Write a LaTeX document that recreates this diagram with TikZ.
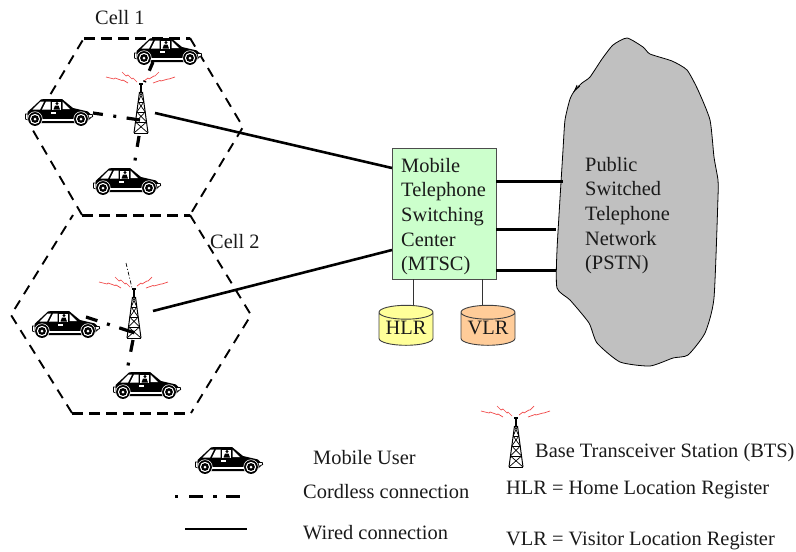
\documentclass[tikz,border=0pt]{standalone}
\usepackage{fontspec}
\setmainfont{Liberation Serif}
\usetikzlibrary{shapes.geometric}
\definecolor{boxgreen}{HTML}{CCFFCC}
\definecolor{hlrfill}{HTML}{FFFF99}
\definecolor{vlrfill}{HTML}{FFCC99}
\definecolor{cloudgray}{HTML}{C0C0C0}
\definecolor{inkc}{HTML}{1A1A1A}
\definecolor{wavered}{HTML}{F04848}
\tikzset{
  txt/.style={font=\fontsize{20.4}{24.6}\selectfont,text=inkc,inner sep=0pt,anchor=base west},
  multitxt/.style={font=\fontsize{20.4}{24.6}\selectfont,text=inkc,inner sep=0pt,align=left,anchor=north west},
  cellside/.style={line width=1.9pt,dash pattern=on 10pt off 7.5pt},
  celledge/.style={line width=3pt,dash pattern=on 11pt off 6pt},
  wired/.style={line width=2.6pt},
  trunk/.style={line width=3pt},
  dbbox/.style={cylinder,shape border rotate=90,aspect=0.34,draw=black!75,line width=0.9pt,
    minimum width=54pt,minimum height=40pt,inner sep=0pt,cylinder uses custom fill,
    font=\fontsize{20.4}{24.6}\selectfont,text=inkc},
  pics/car/.style={code={
    \fill[black] (2.5,13)--(16,0.5)--(19,0)--(37,0)--(48,9)--(63,12.5)--(66.5,16)--(65.5,19.5)--(60,24)--(8,24)--(3,21)--cycle;
    \fill[white] (7.5,10.5)--(15.5,2.5)--(19,2.5)--(15,10.5)--cycle;
    \fill[white] (17,10.5)--(21,2.5)--(25.5,2.5)--(25.5,10.5)--cycle;
    \fill[white] (27,2.5)--(36,2.5)--(36,10.5)--(27,10.5)--cycle;
    \fill[white] (37.5,2.5)--(45,10)--(37.5,10)--cycle;
    \fill[black] (32,4.5) circle (1.7pt);
    \fill[black] (28.5,10.5)--(30,6.5)--(33.5,6.5)--(35,10.5)--cycle;
    \fill[white] (26,12.5) rectangle (31,14.5);
    \draw[white,line width=1.1pt] (12,21)--(54,21);
    \draw[black,line width=0.7pt,fill=white] (0.4,15)--(3,15)--(3,21)--(0.4,20)--cycle;
    \draw[black,line width=0.7pt,fill=white] (63,15.5)--(67.3,15.5)--(67.7,17.5)--(64,19.5)--cycle;
    \foreach \wx in {10,56}{
      \fill[white] (\wx,20) circle (7.6pt);
      \fill[black] (\wx,20) circle (6.9pt);
      \fill[white] (\wx,20) circle (5.2pt);
      \fill[black] (\wx,20) circle (3.9pt);
      \fill[white] (\wx,20) circle (1.5pt);
    }
  }},
  pics/tower/.style={code={
    \draw[black,line width=1pt] (-1.5,8)--(-7,49) (1.5,8)--(7,49);
    \draw[black,line width=1.3pt] (0,0)--(0,8);
    \draw[black,line width=1.5pt] (-2,0)--(2,0);
    \draw[black,line width=0.8pt] (-1.5,8)--(1.5,8) (-2.8,18)--(2.8,18) (-4.2,28)--(4.2,28) (-5.5,38)--(5.5,38) (-7,49)--(7,49);
    \draw[black,line width=0.7pt] (-1.5,8)--(2.8,18) (1.5,8)--(-2.8,18) (-2.8,18)--(4.2,28) (2.8,18)--(-4.2,28)
       (-4.2,28)--(5.5,38) (4.2,28)--(-5.5,38) (-5.5,38)--(7,49) (5.5,38)--(-7,49);
    \draw[wavered,line width=0.7pt]
      (-35,-7)--(-27,-5)--(-26,-6)--(-19,-3.5)--(-18,-4)--(-13,-1)
      (-19,-12)--(-15,-8)--(-13,-9)--(-9,-5)--(-8,-6)--(-4,-2)
      (3,-3)--(7,-6)--(8,-5)--(13,-8)--(14,-8)--(18,-12)
      (12,-1)--(19,-3.5)--(20,-3)--(27,-5)--(28,-5)--(34,-7);
  }}
}
\begin{document}
\begin{tikzpicture}[x=1pt,y=-1pt]
\useasboundingbox (0,0) rectangle (796,552);
% cell outlines
\coordinate (a1) at (84,38); \coordinate (a2) at (190,38); \coordinate (a3) at (243,127);
\coordinate (a4) at (190,215); \coordinate (a5) at (82,215); \coordinate (a6) at (31,127);
\coordinate (b1) at (73,215); \coordinate (b2) at (190,215); \coordinate (b3) at (251,315);
\coordinate (b4) at (191,413); \coordinate (b5) at (72,413); \coordinate (b6) at (11,315);
\draw[cellside] (a2)--(a3)--(a4);
\draw[cellside] (a5)--(a6)--(a1);
\draw[celledge] (a1)--(a2);
\draw[celledge] (a5)--(a4);
\draw[cellside] (b2)--(b3)--(b4);
\draw[cellside] (b5)--(b6)--(b1);
\draw[celledge] (b5)--(b4);
% PSTN cloud
\draw[fill=cloudgray,draw=black,line width=0.8pt] plot[smooth cycle,tension=0.35] coordinates {
 (570,99)(575,90)(582,83)(590,77)(602,59)(613,45)(627,38)(643,47)(650,54)(672,61)(687,70)(698,90)
 (710,120)(714,157)(718,180)(718,197)(714,298)(705,333)(688,355)(673,358)(650,366)(620,362)
 (597,343)(589,323)(570,300)(557,288)(557,250)(563,150)(565,120)};
\draw[black,line width=0.7pt] (574,92)--(577,85)--(575.5,90)--(580,86);
\coordinate (p1) at (563,181.5); \coordinate (p2) at (556,229); \coordinate (p3) at (556,270);
\node[multitxt] (pstn) at (585,157) {Public\\Switched\\Telephone\\Network\\(PSTN)};
% MTSC
\node[draw=black!70,line width=0.9pt,fill=boxgreen,minimum width=104pt,minimum height=131pt,inner sep=0pt] (msc) at (444,213.5) {};
\node[multitxt] (msctext) at (401,158) {Mobile\\Telephone\\Switching\\Center\\(MTSC)};
\coordinate (m1) at (392,168); \coordinate (m2) at (392,250);
\draw[trunk] (msc.east |- p1)--(p1);
\draw[trunk] (msc.east |- p2)--(p2);
\draw[trunk] (msc.east |- p3)--(p3);
% databases
\node[dbbox,cylinder body fill=hlrfill,cylinder end fill=hlrfill] (hlr) at (406,329) {\raisebox{2pt}{HLR}};
\node[dbbox,cylinder body fill=vlrfill,cylinder end fill=vlrfill] (vlr) at (488,329) {\raisebox{2pt}{VLR}};
\coordinate (hm) at (413,279); \coordinate (vm) at (482,279);
\coordinate (hb) at (413,305); \coordinate (vb) at (482,305);
\draw[line width=0.9pt,draw=black!80] (hm)--(hb);
\draw[line width=0.9pt,draw=black!80] (vm)--(vb);
% wired links
\coordinate (t1) at (155,113); \coordinate (t2) at (153,311);
\draw[wired] (t1)--(m1);
\draw[wired] (t2)--(m2);
% towers
\pic at (141,84) {tower};
\pic at (134,289) {tower};
\pic at (516,418) {tower};
% cars
\pic at (134,38) {car};
\pic at (25,99) {car};
\pic at (93,168) {car};
\pic at (32,311) {car};
\pic at (113,372) {car};
\pic at (195,447) {car};
% cordless links
\coordinate (c1) at (153,62); \coordinate (c1e) at (144.5,82);
\coordinate (c2) at (93,113); \coordinate (c2e) at (140,120);
\coordinate (c3) at (139,136); \coordinate (c3e) at (135,160.5);
\coordinate (c4) at (86,317); \coordinate (c4e) at (135,333);
\coordinate (c5) at (133,340); \coordinate (c5e) at (128,365.5);
\coordinate (c6) at (126,263); \coordinate (c6e) at (132,288);
\draw[line width=3.2pt,dash pattern=on 9.5pt off 11pt on 3pt] (c1)--(c1e);
\draw[line width=3.2pt,dash pattern=on 10pt off 10.5pt on 3pt off 10.5pt on 14pt] (c2)--(c2e);
\draw[line width=3.2pt,dash pattern=on 11pt off 11pt on 3pt] (c3)--(c3e);
\draw[line width=3.2pt,dash pattern=on 12pt off 10pt on 3pt off 10pt on 16pt] (c4)--(c4e);
\draw[line width=3.2pt,dash pattern=on 12pt off 11pt on 3pt] (c5)--(c5e);
\draw[line width=0.7pt,dash pattern=on 4pt off 2pt on 1pt off 2pt] (c6)--(c6e);
% legend lines
\coordinate (l1) at (175,496); \coordinate (l2) at (240,496);
\coordinate (l3) at (185,529); \coordinate (l4) at (247,529);
\draw[line width=3pt,dash pattern=on 3pt off 11pt on 14pt off 10pt on 4pt off 9pt on 14pt] (l1)--(l2);
\draw[wired] (l3)--(l4);
% labels
\node[txt] (cell1) at (95,24) {Cell 1};
\node[txt] (cell2) at (210,248) {Cell 2};
\node[txt] (lg1) at (313,464) {Mobile User};
\node[txt] (lg2) at (303,498) {Cordless connection};
\node[txt] (lg3) at (303,539) {Wired connection};
\node[txt] (lg4) at (535,457) {Base Transceiver Station (BTS)};
\node[txt] (lg5) at (506,494) {HLR = Home Location Register};
\node[txt] (lg6) at (506,545) {VLR = Visitor Location Register};
\end{tikzpicture}
\end{document}
